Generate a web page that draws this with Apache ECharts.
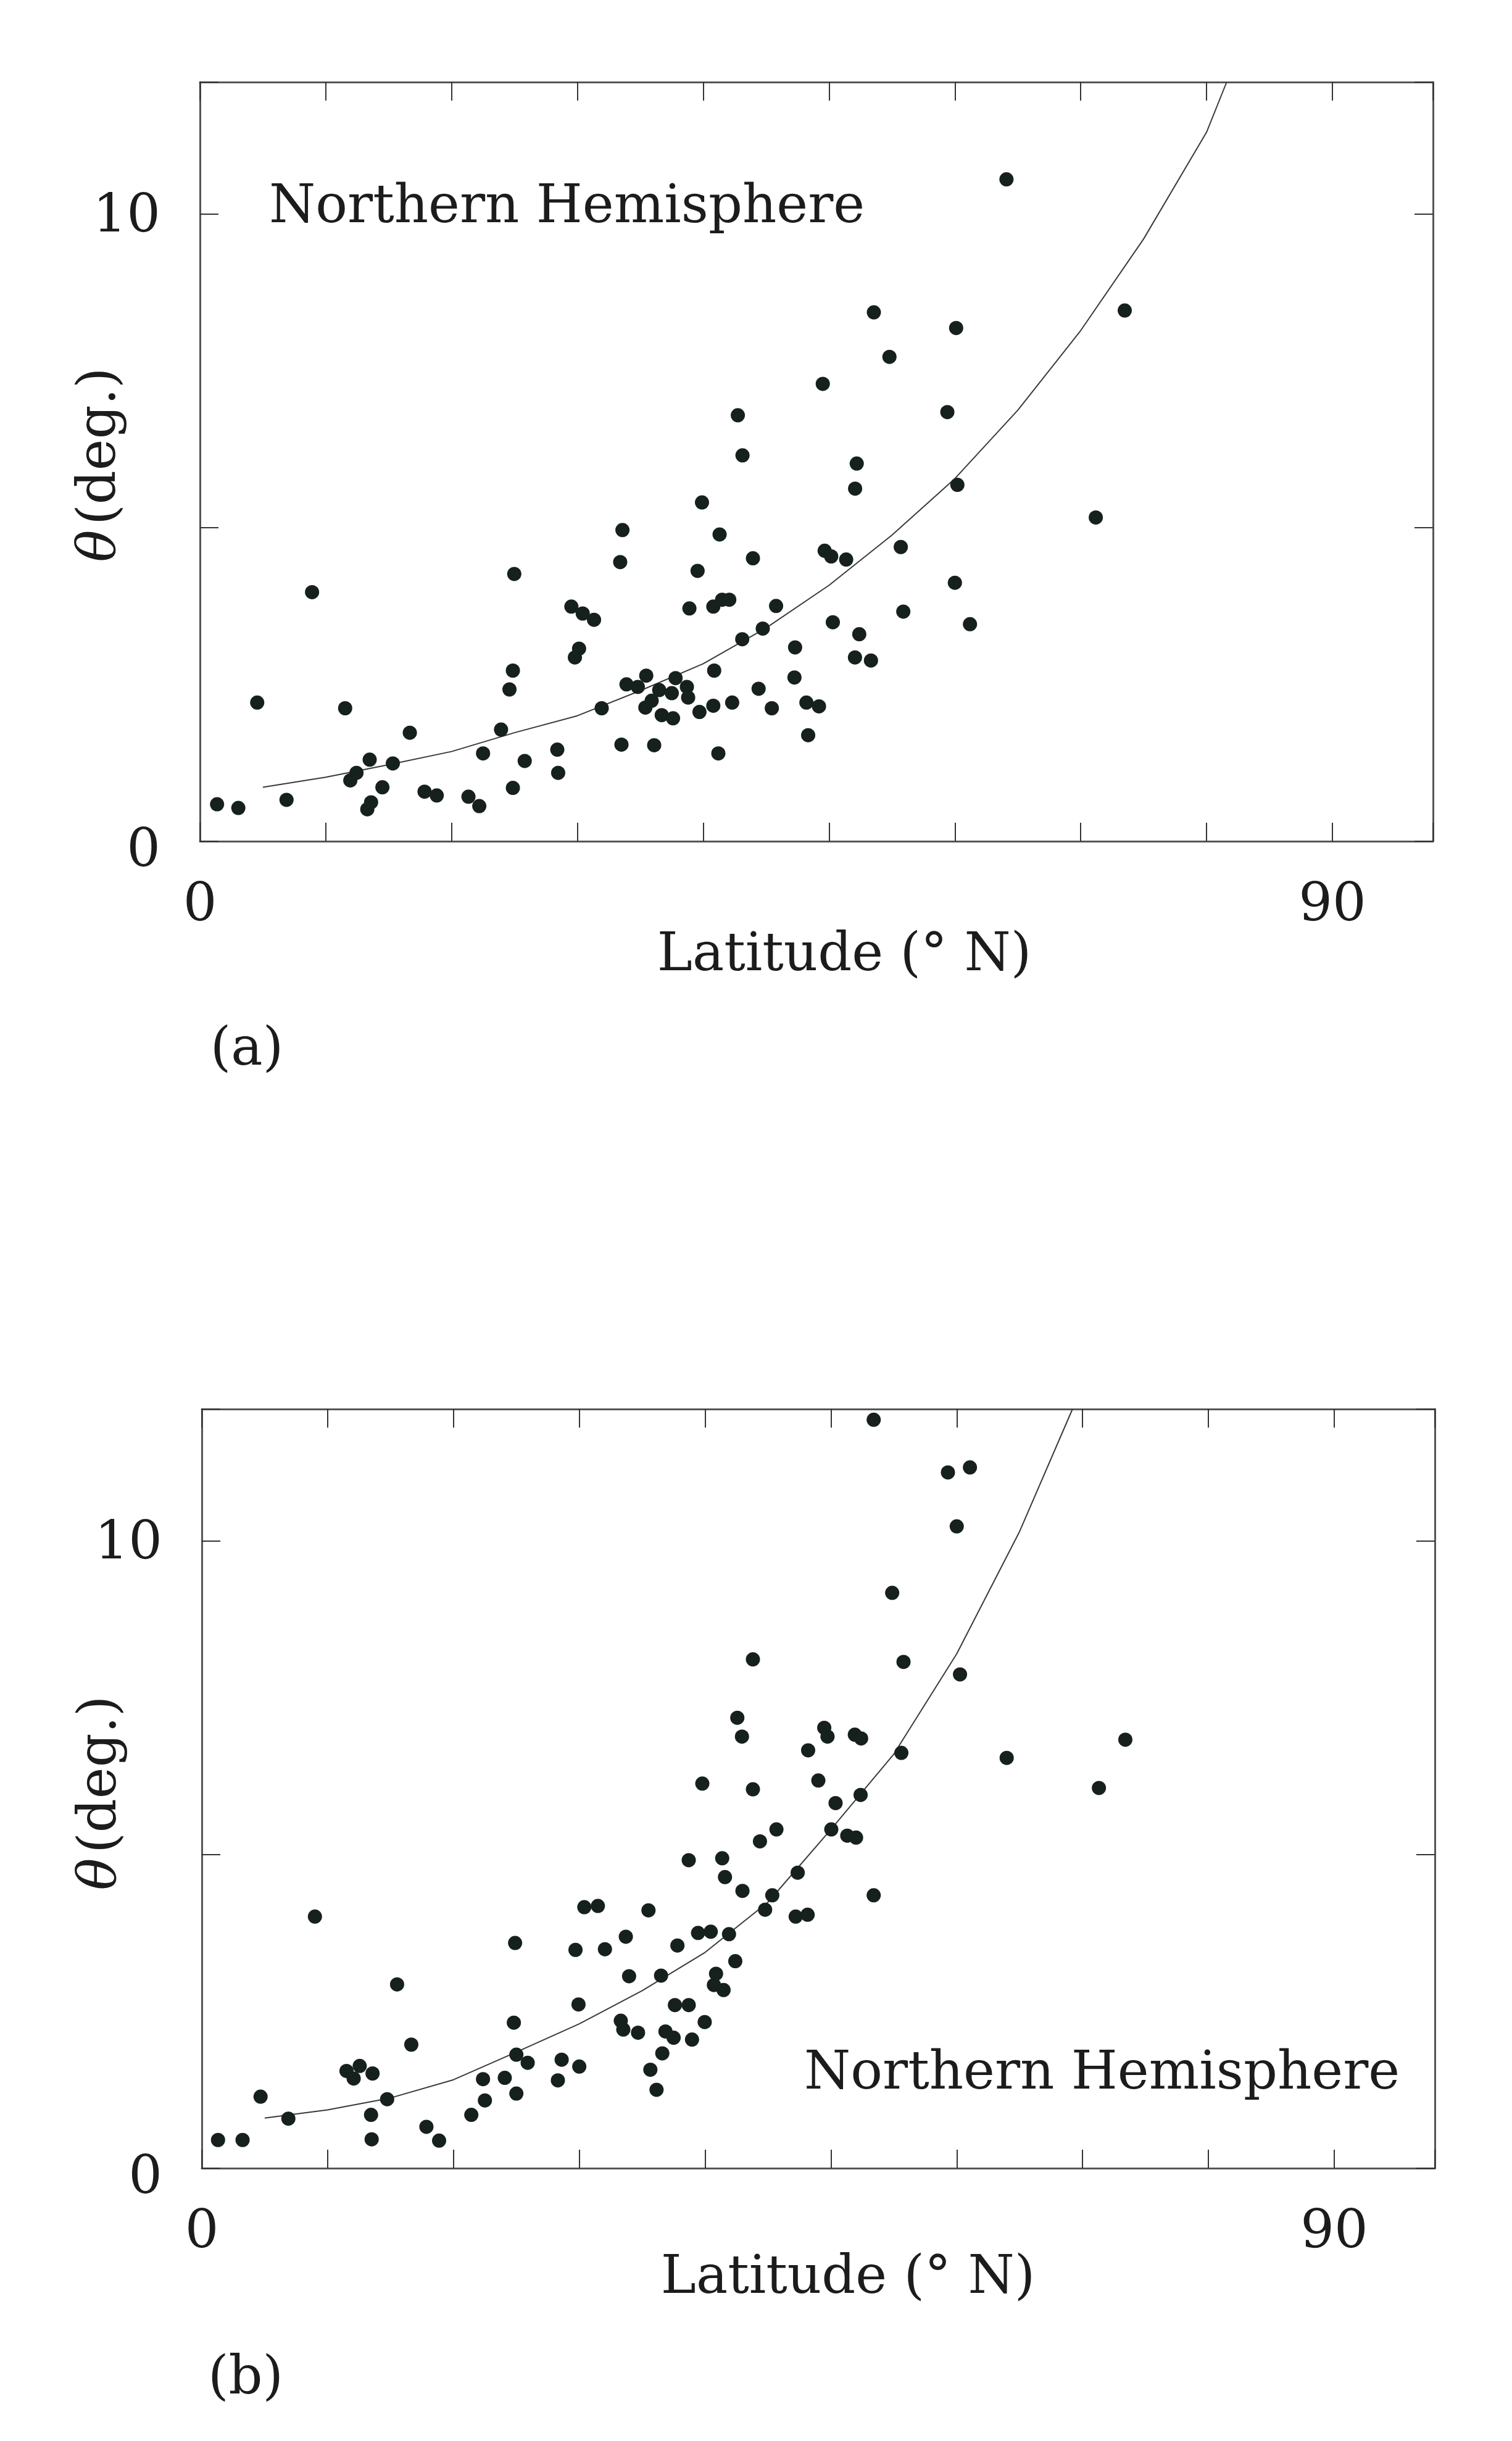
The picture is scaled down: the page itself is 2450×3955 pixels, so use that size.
<!DOCTYPE html>
<html>
<head>
<meta charset="utf-8">
<script src="https://cdn.jsdelivr.net/npm/echarts@6/dist/echarts.min.js"></script>
<style>
html,body{margin:0;padding:0;background:#ffffff;}
#chart{width:2450px;height:3955px;}
</style>
</head>
<body>
<div id="chart"></div>
<script>
// ---------- Panel (a) data ----------
const latA = [1.36,3.05,4.55,6.88,8.91,11.54,11.95,12.44,13.49,13.30,13.60,14.50,15.33,16.68,17.85,18.82,21.34,22.20,22.50,23.93,
  24.87,25.81,24.60,24.87,24.98,28.40,28.47,29.52,30.42,31.32,30.13,29.80,31.93,33.58,33.40,33.50,33.90,34.80,35.47,35.40,
  35.90,36.50,36.70,37.60,37.50,37.80,38.70,38.80,36.10,38.90,39.55,39.90,39.70,40.80,40.87,41.20,40.80,41.30,41.50,42.07,
  42.30,42.75,43.12,43.10,43.95,44.40,44.73,45.45,45.79,47.30,47.25,48.34,48.20,49.20,49.50,49.65,50.17,50.30,51.36,52.07,
  52.20,52.40,52.06,53.33,53.56,54.80,64.10,60.10,59.40,60.20,73.50,71.20,55.70,60.00,55.90,61.20];
const thetaA = [0.59,0.53,2.21,0.66,3.97,2.12,0.97,1.09,1.30,0.51,0.62,0.86,1.24,1.73,0.79,0.73,0.71,0.56,1.40,1.78,
  0.85,1.28,2.42,2.72,4.26,1.46,1.09,3.74,3.63,3.53,3.07,2.93,2.12,4.96,4.45,1.54,2.50,2.46,2.64,2.13,
  2.24,2.41,2.01,1.96,2.36,2.60,2.46,2.29,1.53,3.71,4.31,5.40,2.06,2.16,2.72,1.40,3.74,4.89,3.85,3.85,
  2.21,6.79,6.15,3.22,4.51,2.43,3.39,2.12,3.75,3.09,2.61,1.69,2.21,2.15,7.29,4.63,4.54,3.49,4.49,5.62,
  6.02,3.30,2.93,2.88,8.43,7.72,10.55,8.18,6.84,5.68,8.46,5.16,4.69,4.12,3.66,3.46];
const curveLatA   = [5,10,15,20,25,30,35,40,45,50,55,60,65,70,75,80,81.6];
const curveThetaA = [0.86,1.02,1.22,1.43,1.73,2.00,2.40,2.83,3.40,4.08,4.88,5.78,6.87,8.14,9.60,11.30,12.10];

// ---------- Panel (b) data ----------
const latB = [1.29,3.24,4.67,6.88,8.99,11.50,12.07,12.55,13.57,13.45,13.50,14.73,15.52,16.65,17.85,18.86,21.42,22.35,22.50,24.08,
  24.90,24.80,25.00,25.00,25.90,28.30,28.60,30.00,29.94,29.70,30.40,31.48,32.04,33.30,33.50,33.70,33.96,34.67,35.50,35.65,
  36.14,36.60,36.50,36.85,37.50,37.60,37.80,38.70,38.96,38.70,39.44,39.78,39.97,40.45,40.87,40.70,41.47,41.36,41.58,41.90,
  42.40,42.56,42.93,42.97,43.80,43.80,44.36,44.77,45.34,45.67,47.36,47.20,48.15,48.19,49.00,49.47,49.73,50.03,50.37,51.30,
  52.00,51.90,52.40,52.36,53.40,53.40,54.87,59.30,61.05,60.00,55.77,60.26,55.60,63.97,73.40,71.30];
const thetaB = [0.45,0.45,1.14,0.79,4.01,1.55,1.43,1.63,1.51,0.85,0.46,1.10,2.93,1.97,0.66,0.44,0.85,1.42,1.08,1.44,
  3.59,2.32,1.81,1.19,1.68,1.40,1.73,1.62,2.61,3.48,4.16,4.18,3.49,2.35,2.21,3.69,3.06,2.16,4.11,1.57,
  1.25,1.83,3.07,2.18,2.08,2.60,3.55,2.60,2.05,4.91,3.75,6.13,2.33,3.77,3.10,2.92,2.84,4.94,4.64,3.73,
  3.30,7.18,6.88,4.42,8.11,6.04,5.21,4.12,4.35,5.40,4.71,4.01,4.04,6.66,6.18,7.02,6.88,5.40,5.82,5.30,
  5.27,6.91,6.85,5.95,4.35,11.93,9.17,11.09,11.17,10.23,8.07,7.87,6.62,6.54,6.83,6.06];
const curveLatB   = [5,10,15,20,25,30,35,40,45,50,55,60,65,69.2];
const curveThetaB = [0.80,0.93,1.12,1.41,1.85,2.30,2.83,3.44,4.24,5.40,6.60,8.20,10.15,12.10];

// ---------- Tick labels and texts ----------
const xTickLabels = ['0', '90'];
const yTickLabels = ['0', '10'];
const panelNote = 'Northern Hemisphere';
const xTitle = 'Latitude (° N)';
const panelTags = ['(a)', '(b)'];

const FONT = '"DejaVu Serif", "Liberation Serif", serif';
const TXT = '#1c1c1c';
const AX = '#555555';
const DOT = '#16211e';
const FS = 86;

function pairs(xs, ys) { return xs.map((x, i) => [x, ys[i]]); }

function xAxisPair(gi) {
  const common = {
    type: 'value', gridIndex: gi, min: 0, max: 98, interval: 10,
    splitLine: { show: false },
    axisLine: { show: true, onZero: false, lineStyle: { color: AX, width: 3 } },
    axisTick: { show: true, inside: true, length: 30, lineStyle: { color: '#333', width: 2 } }
  };
  return [
    Object.assign({}, common, {
      position: 'bottom',
      axisLabel: {
        show: true, margin: 63, fontFamily: FONT, fontSize: FS, color: TXT,
        showMinLabel: true, showMaxLabel: true, hideOverlap: false,
        formatter: v => xTickLabels.includes(String(v)) ? String(v) : ''
      }
    }),
    Object.assign({}, common, { position: 'top', axisLabel: { show: false } })
  ];
}
function yAxisPair(gi) {
  const common = {
    type: 'value', gridIndex: gi, min: 0, max: 12.1, interval: 5,
    splitLine: { show: false },
    axisLine: { show: true, onZero: false, lineStyle: { color: AX, width: 3 } },
    axisTick: { show: true, inside: true, length: 30, lineStyle: { color: '#333', width: 2 } }
  };
  return [
    Object.assign({}, common, {
      position: 'left',
      axisLabel: {
        show: true, margin: 64, fontFamily: FONT, fontSize: FS, color: TXT,
        lineHeight: 12,
        showMinLabel: true, showMaxLabel: true, hideOverlap: false,
        formatter: v => {
          const s = String(v);
          if (!yTickLabels.includes(s)) return '';
          // small downward nudge of the label glyphs, as in the original print
          return s === '0' ? '\n\n\n' + s : '\n' + s;
        }
      }
    }),
    Object.assign({}, common, { position: 'right', axisLabel: { show: false } })
  ];
}

function txt(x, y, text, opts) {
  return Object.assign({
    type: 'text', x: x, y: y, z: 10,
    style: Object.assign({
      text: text, fill: TXT, font: FS + 'px ' + FONT,
      fontFamily: FONT, fontSize: FS,
      align: 'center', verticalAlign: 'middle',
      textAlign: 'center', textVerticalAlign: 'middle'
    }, (opts && opts.style) || {})
  }, (opts && opts.el) || {});
}
function yTitle(x, y) {
  return {
    type: 'text', x: x, y: y, rotation: Math.PI / 2, z: 10,
    style: {
      text: '{t|θ}(deg.)', fill: TXT, fontFamily: FONT, fontSize: FS,
      font: FS + 'px ' + FONT,
      align: 'center', verticalAlign: 'middle',
      textAlign: 'center', textVerticalAlign: 'middle',
      rich: { t: { fontFamily: FONT, fontSize: FS, fontStyle: 'italic', fill: TXT, color: TXT, padding: [0, 8, 0, 0] } }
    }
  };
}

const chart = echarts.init(document.getElementById('chart'), null, { renderer: 'canvas', width: 2450, height: 3955 });

const option = {
  animation: false,
  backgroundColor: '#ffffff',
  grid: [
    { left: 324, top: 133, width: 1998, height: 1230, containLabel: false },
    { left: 327, top: 2283, width: 1998, height: 1230, containLabel: false }
  ],
  xAxis: [...xAxisPair(0), ...xAxisPair(1)],
  yAxis: [...yAxisPair(0), ...yAxisPair(1)],
  series: [
    { type: 'line', xAxisIndex: 0, yAxisIndex: 0, data: pairs(curveLatA, curveThetaA),
      showSymbol: false, symbol: 'none', smooth: false, clip: true,
      lineStyle: { color: '#3a3a3a', width: 2 }, z: 2 },
    { type: 'scatter', xAxisIndex: 0, yAxisIndex: 0, data: pairs(latA, thetaA),
      symbol: 'circle', symbolSize: 23, itemStyle: { color: DOT, opacity: 1 }, z: 3 },
    { type: 'line', xAxisIndex: 2, yAxisIndex: 2, data: pairs(curveLatB, curveThetaB),
      showSymbol: false, symbol: 'none', smooth: false, clip: true,
      lineStyle: { color: '#3a3a3a', width: 2 }, z: 2 },
    { type: 'scatter', xAxisIndex: 2, yAxisIndex: 2, data: pairs(latB, thetaB),
      symbol: 'circle', symbolSize: 23, itemStyle: { color: DOT, opacity: 1 }, z: 3 }
  ],
  graphic: [
    txt(436, 338, panelNote, { style: { align: 'left', textAlign: 'left' } }),
    txt(1303, 3362, panelNote, { style: { align: 'left', textAlign: 'left' } }),
    txt(1368, 1550, xTitle),
    txt(1374, 3693, xTitle),
    yTitle(164, 753),
    yTitle(165, 2905),
    txt(400, 1703, panelTags[0]),
    txt(398, 3856, panelTags[1])
  ]
};
chart.setOption(option);
</script>
</body>
</html>
